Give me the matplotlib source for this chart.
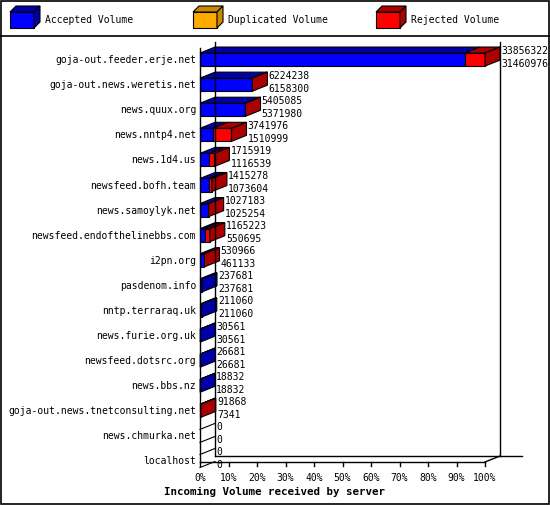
import matplotlib
matplotlib.use('Agg')
from matplotlib import pyplot as plt
from matplotlib.patches import Polygon, Rectangle

servers = ['goja-out.feeder.erje.net', 'goja-out.news.weretis.net', 'news.quux.org',
           'news.nntp4.net', 'news.1d4.us', 'newsfeed.bofh.team', 'news.samoylyk.net',
           'newsfeed.endofthelinebbs.com', 'i2pn.org', 'pasdenom.info', 'nntp.terraraq.uk',
           'news.furie.org.uk', 'newsfeed.dotsrc.org', 'news.bbs.nz',
           'goja-out.news.tnetconsulting.net', 'news.chmurka.net', 'localhost']
total = [33856322, 6224238, 5405085, 3741976, 1715919, 1415278, 1027183, 1165223, 530966,
         237681, 211060, 30561, 26681, 18832, 91868, 0, 0]
accepted = [31460976, 6158300, 5371980, 1510999, 1116539, 1073604, 1025254, 550695, 461133,
            237681, 211060, 30561, 26681, 18832, 7341, 0, 0]
duplicated = [0] * len(servers)

front = {'blue': '#0000ff', 'orange': '#ffaa00', 'red': '#ff0000'}
dark = {'blue': '#0000aa', 'orange': '#cc8800', 'red': '#aa0000'}

W, H = 550, 505
fig = plt.figure(figsize=(W / 100, H / 100), dpi=100)
ax = fig.add_axes([200 / W, 1 - 462 / H, 285 / W, 420 / H])
ax.set_xlim(0, 100)
ax.set_ylim(16.1, -0.64)
ax.axis('off')

dx = 15 / 285 * 100   # depth in x data units
dy = 6 / 25.1         # depth in y data units
font = 'DejaVu Sans Mono'
fs = 7.0
vmax = max(total)
bottom = 16.1
top = -0.64

def poly(pts, fc):
    ax.add_patch(Polygon(pts, closed=True, fc=fc, ec='black', lw=0.8, clip_on=False))

# walls
ax.plot([0, 0], [bottom, top + dy], color='black', lw=1, clip_on=False)
ax.plot([dx, dx], [bottom - dy, top], color='black', lw=1, clip_on=False)
ax.plot([100 + dx, 100 + dx], [bottom - dy, top], color='black', lw=1, clip_on=False)
ax.plot([0, 100], [bottom, bottom], color='black', lw=1, clip_on=False)
ax.plot([dx, 113], [bottom - dy, bottom - dy], color='black', lw=1, clip_on=False)
ax.plot([100, 100 + dx], [bottom, bottom - dy], color='black', lw=1, clip_on=False)
for t in range(0, 101, 10):
    ax.plot([t, t], [bottom, bottom + 0.15], color='black', lw=1, clip_on=False)
    ax.text(t, bottom + 0.65, f'{t}%', ha='center', va='center', fontsize=fs,
            family=font, clip_on=False)
ax.text(26, bottom + 1.2, 'Incoming Volume received by server',
        ha='center', va='center', fontsize=7.8, family=font, weight='bold', clip_on=False)

for i, name in enumerate(servers):
    c = i
    y0, y1 = c + 0.32, c - 0.2   # front face bottom / top
    a = accepted[i] / vmax * 100
    t = total[i] / vmax * 100
    segs = [('blue', 0, a), ('red', a, t)]
    for col, s, e in segs:
        if e > s:
            poly([(s, y0), (e, y0), (e, y1), (s, y1)], front[col])
            poly([(s, y1), (e, y1), (e + dx, y1 - dy), (s + dx, y1 - dy)], dark[col])
    last = 'red' if t > a else 'blue'
    if total[i] > 0:
        poly([(t, y0), (t + dx, y0 - dy), (t + dx, y1 - dy), (t, y1)], dark[last])
    else:
        ax.plot([0, dx], [y1, y1 - dy], color='black', lw=0.8, clip_on=False)
        ax.plot([0, dx], [y0, y0 - dy], color='black', lw=0.8, clip_on=False)
    ax.text(t + dx + 0.4, c - 0.3, str(total[i]), ha='left', va='center', fontsize=fs,
            family=font, clip_on=False)
    ax.text(t + dx + 0.4, c + 0.22, str(accepted[i]), ha='left', va='center', fontsize=fs,
            family=font, clip_on=False)
    ax.text(-1.4, c + 0.08, name, ha='right', va='center', fontsize=fs,
            family=font, clip_on=False)

# legend in pixel coordinates
lg = fig.add_axes([0, 0, 1, 1])
lg.set_xlim(0, W)
lg.set_ylim(H, 0)
lg.axis('off')
lg.set_zorder(-1)
lg.add_patch(Rectangle((0.5, 0.5), W - 1.5, H - 1.5, fill=False, ec='black', lw=1.2))
lg.plot([0, W], [36, 36], color='black', lw=1.2)
labels = ['Accepted Volume', 'Duplicated Volume', 'Rejected Volume']
cols = ['blue', 'orange', 'red']
for k, (lab, col) in enumerate(zip(labels, cols)):
    x0 = 10 + k * 183
    lg.add_patch(Polygon([(x0, 28), (x0 + 24, 28), (x0 + 24, 12), (x0, 12)], fc=front[col], ec='black', lw=0.8))
    lg.add_patch(Polygon([(x0, 12), (x0 + 24, 12), (x0 + 30, 6), (x0 + 6, 6)], fc=dark[col], ec='black', lw=0.8))
    lg.add_patch(Polygon([(x0 + 24, 28), (x0 + 30, 22), (x0 + 30, 6), (x0 + 24, 12)], fc=dark[col], ec='black', lw=0.8))
    lg.text(x0 + 35, 20, lab, ha='left', va='center', fontsize=fs, family=font)

fig.savefig('out.png', dpi=100)
